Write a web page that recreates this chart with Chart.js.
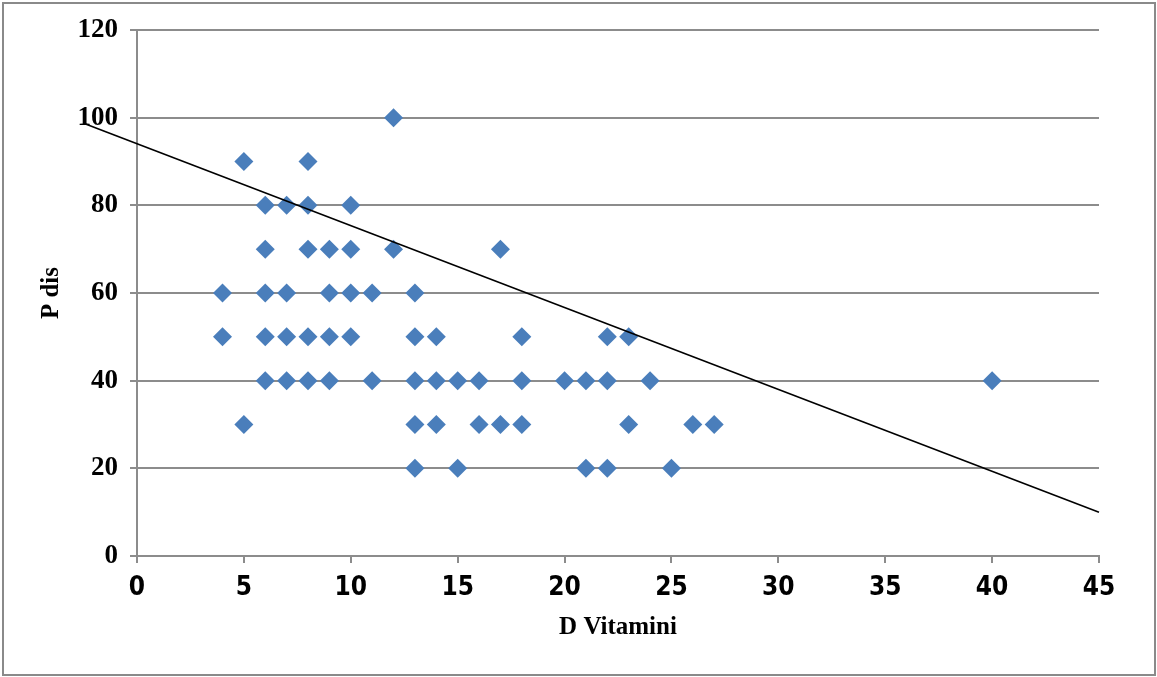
<!DOCTYPE html>
<html>
<head>
<meta charset="utf-8">
<title>D Vitamini - P dis</title>
<script src="https://cdn.jsdelivr.net/npm/chart.js@4.4.1/dist/chart.umd.min.js"></script>
<style>
    html, body { margin: 0; padding: 0; background: #fff; }
    #wrap { position: relative; width: 1157px; height: 677px; }
    #frame {
        position: absolute; left: 2px; top: 2px;
        width: 1150px; height: 670px;
        border: 2px solid #8a8a8a;
        pointer-events: none;
    }
</style>
</head>
<body>
<div id="wrap">
    <canvas id="scatterChart"></canvas>
    <div id="frame"></div>
</div>
<script>
// Ölçümler: D vitamini (x) ve P dis (y), aynı sıradaki değerler birbirine karşılık gelir
const vitaminD = [
    4, 4,
    5, 5,
    6, 6, 6, 6, 6,
    7, 7, 7, 7,
    8, 8, 8, 8, 8,
    9, 9, 9, 9,
    10, 10, 10, 10,
    11, 11,
    12, 12,
    13, 13, 13, 13, 13,
    14, 14, 14,
    15, 15,
    16, 16,
    17, 17,
    18, 18, 18,
    20,
    21, 21,
    22, 22, 22,
    23, 23,
    24, 25, 26, 27,
    40
];
const pDis = [
    60, 50,
    90, 30,
    80, 70, 60, 50, 40,
    80, 60, 50, 40,
    90, 80, 70, 50, 40,
    70, 60, 50, 40,
    80, 70, 60, 50,
    60, 40,
    100, 70,
    60, 50, 40, 30, 20,
    50, 40, 30,
    40, 20,
    40, 30,
    70, 30,
    50, 40, 30,
    40,
    40, 20,
    50, 40, 20,
    50, 30,
    40, 20, 30, 30,
    40
];

// Doğrusal eğilim çizgisinin uç noktaları
const trendX = [-2.5, 45];
const trendY = [98.7, 10];

// Eksen aralıkları
const xTicks = { min: 0, max: 45, step: 5 };
const yTicks = { min: 0, max: 120, step: 20 };

const GRID = '#8c8c8c';
const MARKER = '#4a7ebb';

const points = vitaminD.map((x, i) => ({ x: x, y: pDis[i] }));
const trend = trendX.map((x, i) => ({ x: x, y: trendY[i] }));

const serifBold = (size) => ({ family: '"Liberation Serif", "Times New Roman", serif', size: size, weight: 'bold' });

const ctx = document.getElementById('scatterChart');
new Chart(ctx, {
    type: 'scatter',
    data: {
        datasets: [{
            // eğilim çizgisi noktaların üstünde kalsın
            label: 'Doğrusal',
            data: trend,
            showLine: true,
            borderColor: '#000',
            borderWidth: 1.6,
            pointRadius: 0,
            clip: false,
            order: 0
        }, {
            label: 'P dis',
            data: points,
            pointStyle: 'rectRot',
            pointRadius: 9.5,
            backgroundColor: MARKER,
            borderColor: MARKER,
            borderWidth: 0,
            order: 1
        }]
    },
    options: {
        responsive: true,
        maintainAspectRatio: false,
        animation: false,
        layout: {
            padding: { top: 30, right: 58, left: 0, bottom: 0 }
        },
        plugins: {
            legend: { display: false },
            tooltip: { enabled: false }
        },
        scales: {
            x: {
                type: 'linear',
                min: xTicks.min,
                max: xTicks.max,
                afterFit: (scale) => { scale.height = 121; },
                ticks: {
                    stepSize: xTicks.step,
                    color: '#000',
                    padding: 10,
                    font: { family: '"Liberation Sans Narrow", "DejaVu Sans Condensed", sans-serif', size: 26, weight: 'bold' }
                },
                grid: {
                    drawOnChartArea: false,
                    tickLength: 7,
                    color: GRID,
                    lineWidth: 2
                },
                border: { color: GRID, width: 2 },
                title: {
                    display: true,
                    text: 'D Vitamini',
                    color: '#000',
                    font: serifBold(25),
                    padding: { top: 0, bottom: 34 }
                }
            },
            y: {
                min: yTicks.min,
                max: yTicks.max,
                afterFit: (scale) => { scale.width = 137; },
                ticks: {
                    stepSize: yTicks.step,
                    color: '#000',
                    padding: 12,
                    font: serifBold(27)
                },
                grid: {
                    color: GRID,
                    tickLength: 7,
                    lineWidth: 2
                },
                border: { color: GRID, width: 2 },
                title: {
                    display: true,
                    text: 'P dis',
                    color: '#000',
                    font: serifBold(25),
                    padding: { top: 37, bottom: 0 }
                }
            }
        }
    }
});
</script>
</body>
</html>
